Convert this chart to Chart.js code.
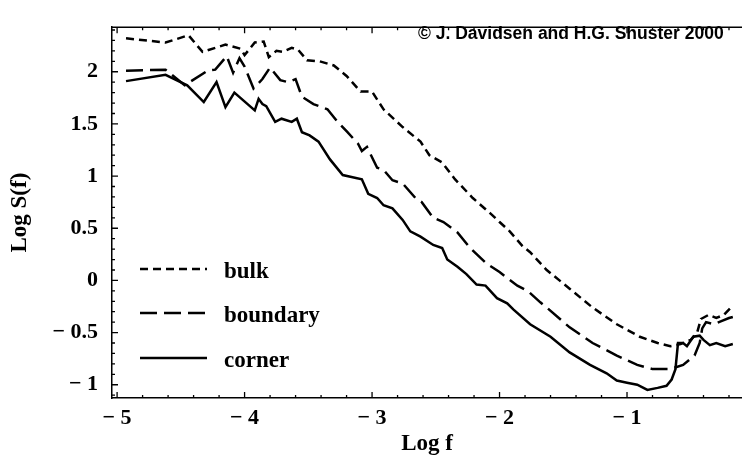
<!DOCTYPE html>
<html>
<head>
<meta charset="utf-8">
<script src="https://cdn.jsdelivr.net/npm/chart.js@4.4.0/dist/chart.umd.min.js"></script>
<style>
  html, body { margin: 0; padding: 0; background: #fff; }
</style>
</head>
<body>
<canvas id="myChart" width="742" height="459"></canvas>
<script>
// Datos (Log f, Log S(f))
var bulkF = [-4.93, -4.62, -4.44, -4.33, -4.15, -4.03, -4.0, -3.92, -3.85, -3.81, -3.75, -3.70, -3.63, -3.58, -3.51, -3.41, -3.30, -3.20, -3.09, -3.0, -2.91, -2.76, -2.62, -2.55, -2.45, -2.35, -2.21, -2.07, -2.0, -1.92, -1.82, -1.76, -1.63, -1.45, -1.27, -1.08, -0.90, -0.76, -0.66, -0.58, -0.50, -0.45, -0.42, -0.36, -0.30, -0.24, -0.17];
var bulkS = [2.32, 2.28, 2.35, 2.19, 2.26, 2.22, 2.16, 2.28, 2.29, 2.14, 2.20, 2.19, 2.23, 2.21, 2.11, 2.10, 2.06, 1.96, 1.81, 1.81, 1.64, 1.47, 1.33, 1.20, 1.13, 0.97, 0.79, 0.64, 0.56, 0.47, 0.33, 0.27, 0.10, -0.08, -0.26, -0.42, -0.54, -0.60, -0.63, -0.61, -0.57, -0.50, -0.37, -0.33, -0.36, -0.33, -0.24];

var boundaryF = [-4.93, -4.62, -4.47, -4.29, -4.23, -4.14, -4.09, -4.04, -4.0, -3.93, -3.86, -3.80, -3.72, -3.66, -3.60, -3.55, -3.46, -3.35, -3.27, -3.20, -3.11, -3.08, -3.04, -2.96, -2.91, -2.84, -2.76, -2.66, -2.61, -2.52, -2.44, -2.33, -2.23, -2.10, -2.0, -1.86, -1.78, -1.68, -1.63, -1.45, -1.27, -1.08, -0.92, -0.80, -0.66, -0.56, -0.47, -0.43, -0.41, -0.38, -0.32, -0.26, -0.20, -0.17];
var boundaryS = [2.01, 2.02, 1.87, 2.01, 2.02, 2.15, 1.99, 2.13, 2.05, 1.84, 1.93, 2.04, 1.92, 1.90, 1.93, 1.76, 1.69, 1.64, 1.52, 1.43, 1.31, 1.24, 1.28, 1.08, 1.06, 0.96, 0.93, 0.79, 0.75, 0.60, 0.56, 0.46, 0.31, 0.16, 0.08, -0.05, -0.10, -0.21, -0.26, -0.45, -0.60, -0.72, -0.81, -0.85, -0.85, -0.81, -0.72, -0.60, -0.46, -0.40, -0.42, -0.39, -0.36, -0.35];

var cornerF = [-4.93, -4.62, -4.45, -4.32, -4.22, -4.15, -4.08, -3.92, -3.89, -3.86, -3.83, -3.76, -3.71, -3.63, -3.59, -3.55, -3.49, -3.42, -3.33, -3.23, -3.08, -3.03, -2.96, -2.91, -2.84, -2.76, -2.70, -2.62, -2.52, -2.45, -2.41, -2.33, -2.26, -2.18, -2.11, -2.02, -1.94, -1.89, -1.76, -1.60, -1.45, -1.29, -1.16, -1.08, -1.0, -0.92, -0.84, -0.76, -0.69, -0.65, -0.62, -0.60, -0.56, -0.53, -0.48, -0.43, -0.40, -0.35, -0.30, -0.23, -0.17];
var cornerS = [1.91, 1.97, 1.87, 1.71, 1.90, 1.66, 1.80, 1.63, 1.74, 1.69, 1.67, 1.52, 1.55, 1.52, 1.55, 1.42, 1.39, 1.33, 1.16, 1.01, 0.97, 0.83, 0.79, 0.72, 0.69, 0.58, 0.47, 0.42, 0.34, 0.31, 0.20, 0.13, 0.06, -0.04, -0.05, -0.17, -0.22, -0.28, -0.42, -0.54, -0.69, -0.81, -0.89, -0.96, -0.98, -1.00, -1.05, -1.03, -1.01, -0.95, -0.85, -0.60, -0.60, -0.63, -0.54, -0.53, -0.57, -0.62, -0.60, -0.63, -0.61];

var seriesNames = ['bulk', 'boundary', 'corner'];
var xTicks = [-5, -4, -3, -2, -1];
var yTicks = [-1, -0.5, 0, 0.5, 1, 1.5, 2];

var dashes = [[8, 5], [17, 7], []];

function puntos(xs, ys) {
    return xs.map(function (x, i) { return { x: x, y: ys[i] }; });
}

function etiqueta(v) {
    var s = String(Math.abs(v));
    return v < 0 ? '\u2212 ' + s : s;
}

// Marcas de eje hacia dentro, marco superior, leyenda y texto de copyright
var adornos = {
    id: 'adornos',
    afterDraw: function (chart) {
        var c = chart.ctx, a = chart.chartArea;
        var sx = chart.scales.x, sy = chart.scales.y;
        c.save();
        c.strokeStyle = '#000';
        c.lineWidth = 1.5;
        c.beginPath();
        c.moveTo(a.left, a.top);
        c.lineTo(a.right, a.top);
        c.stroke();
        c.lineWidth = 1.3;
        c.beginPath();
        for (var i = 0; i <= 24; i++) {
            var v = -5 + i * 0.2;
            var px = sx.getPixelForValue(v);
            var len = (i % 5 === 0) ? 6 : 3;
            c.moveTo(px, a.bottom); c.lineTo(px, a.bottom - len);
            c.moveTo(px, a.top); c.lineTo(px, a.top + len);
        }
        for (var j = -11; j <= 24; j++) {
            var py = sy.getPixelForValue(j / 10);
            var l2 = (j % 5 === 0) ? 6 : 3;
            c.moveTo(a.left, py); c.lineTo(a.left + l2, py);
        }
        c.stroke();

        // leyenda
        var ly = [269, 313, 358];
        c.lineWidth = 2.4;
        c.fillStyle = '#000';
        c.font = 'bold 23px "Liberation Serif"';
        c.textBaseline = 'alphabetic';
        for (var k = 0; k < 3; k++) {
            c.setLineDash(dashes[k]);
            c.beginPath();
            c.moveTo(140, ly[k]); c.lineTo(207, ly[k]);
            c.stroke();
            c.setLineDash([]);
            c.fillText(seriesNames[k], 224, ly[k] + 9);
        }

        c.font = 'bold 17.5px "Liberation Sans"';
        c.fillText('\u00A9 J. Davidsen and H.G. Shuster 2000', 418, 39);
        c.restore();
    }
};

var ctx = document.getElementById('myChart').getContext('2d');

function serie(i, xs, ys) {
    return {
        label: seriesNames[i],
        data: puntos(xs, ys),
        borderColor: '#000',
        borderWidth: 2.5,
        borderDash: dashes[i],
        pointRadius: 0,
        fill: false,
        tension: 0
    };
}

var fuenteTicks = { family: 'Liberation Serif', size: 22, weight: 'bold' };
var fuenteTitulo = { family: 'Liberation Serif', size: 23, weight: 'bold' };

var myChart = new Chart(ctx, {
    type: 'line',
    data: {
        datasets: [
            serie(0, bulkF, bulkS),
            serie(1, boundaryF, boundaryS),
            serie(2, cornerF, cornerS)
        ]
    },
    options: {
        responsive: false,
        animation: false,
        layout: { padding: { top: 7, right: 0, left: 0, bottom: 0 } },
        plugins: {
            legend: { display: false },
            tooltip: { enabled: false }
        },
        scales: {
            x: {
                type: 'linear',
                min: -5.04,
                max: -0.098,
                afterBuildTicks: function (s) { s.ticks = xTicks.map(function (v) { return { value: v }; }); },
                afterFit: function (s) { s.height = 61; },
                grid: { display: false, drawTicks: false },
                border: { display: true, color: '#000', width: 1.5 },
                ticks: { color: '#000', font: fuenteTicks, padding: 7, maxRotation: 0, callback: etiqueta },
                title: { display: true, text: 'Log f', color: '#000', font: fuenteTitulo, padding: { top: 0, bottom: 1 } }
            },
            y: {
                type: 'linear',
                min: -1.127,
                max: 2.427,
                afterBuildTicks: function (s) { s.ticks = yTicks.map(function (v) { return { value: v }; }); },
                afterFit: function (s) { s.width = 112; },
                grid: { display: false, drawTicks: false },
                border: { display: true, color: '#000', width: 1.5 },
                ticks: { color: '#000', font: fuenteTicks, padding: 14, callback: etiqueta },
                title: { display: true, text: 'Log S(f)', color: '#000', font: fuenteTitulo, padding: { top: 6, bottom: 0 } }
            }
        }
    },
    plugins: [adornos]
});
</script>
</body>
</html>
